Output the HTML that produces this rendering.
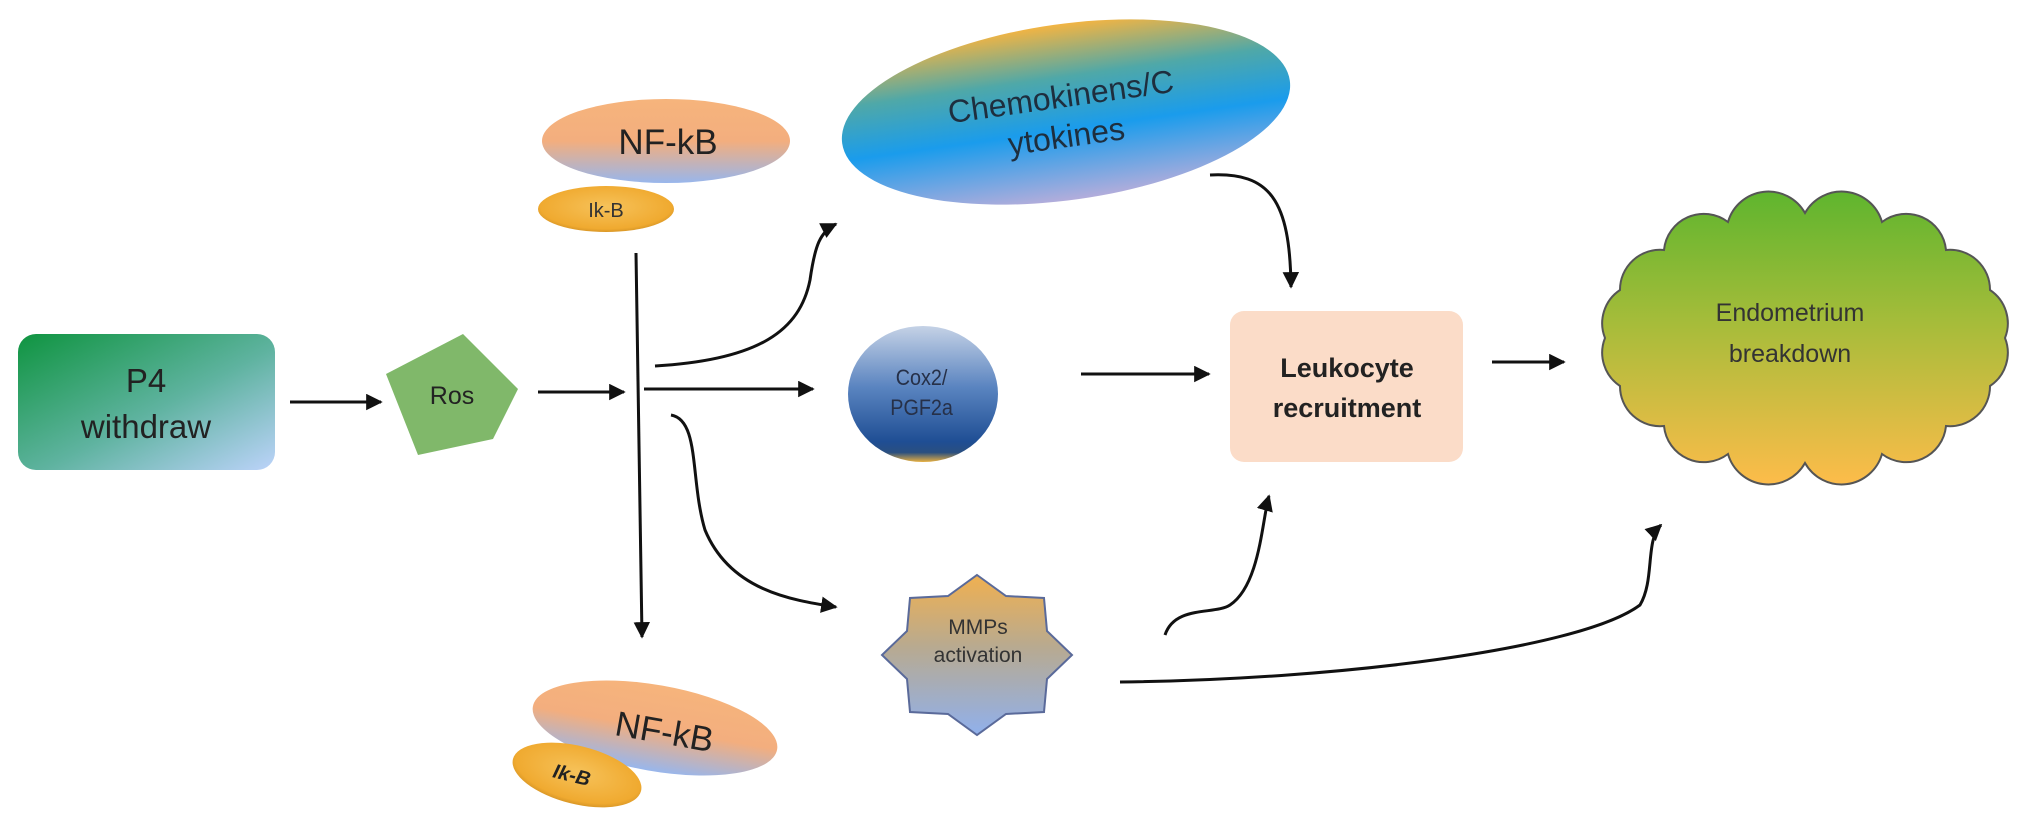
<!DOCTYPE html>
<html><head><meta charset="utf-8"><style>
html,body{margin:0;padding:0;background:#fff;}
svg{display:block;}
text{font-family:"Liberation Sans",sans-serif;}
</style></head><body>
<svg width="2032" height="819" viewBox="0 0 2032 819" xmlns="http://www.w3.org/2000/svg">
<defs>
<linearGradient id="gP4" x1="0" y1="0" x2="1" y2="1"><stop offset="0" stop-color="#0f9440"/><stop offset="0.55" stop-color="#5fb3a0"/><stop offset="1" stop-color="#bcd3fa"/></linearGradient>
<linearGradient id="gNF" x1="0" y1="0" x2="0" y2="1"><stop offset="0" stop-color="#f6b47c"/><stop offset="0.5" stop-color="#f3ae7e"/><stop offset="1" stop-color="#98b6ec"/></linearGradient>
<radialGradient id="gIk" cx="0.5" cy="0.45" r="0.6"><stop offset="0" stop-color="#f6c25a"/><stop offset="0.8" stop-color="#f0aa30"/><stop offset="1" stop-color="#c98a20"/></radialGradient>
<linearGradient id="gCh" x1="0" y1="0" x2="0" y2="1"><stop offset="0" stop-color="#f2b443"/><stop offset="0.3" stop-color="#4fa8a8"/><stop offset="0.6" stop-color="#1a9cec"/><stop offset="1" stop-color="#b3addb"/></linearGradient>
<linearGradient id="gCox" x1="0" y1="0" x2="0" y2="1"><stop offset="0" stop-color="#c5d2e6"/><stop offset="0.45" stop-color="#5a84c0"/><stop offset="0.85" stop-color="#1f4e94"/><stop offset="0.93" stop-color="#2a4f80"/><stop offset="1" stop-color="#e8b040"/></linearGradient>
<linearGradient id="gMM" x1="0" y1="0" x2="0" y2="1"><stop offset="0" stop-color="#f0b050"/><stop offset="0.45" stop-color="#b8aa90"/><stop offset="1" stop-color="#90b0ec"/></linearGradient>
<linearGradient id="gCl" x1="0" y1="0" x2="0" y2="1"><stop offset="0" stop-color="#5fb52e"/><stop offset="0.45" stop-color="#a6bc3a"/><stop offset="1" stop-color="#fdbc4a"/></linearGradient>
<marker id="ah" viewBox="0 0 10 10" refX="9" refY="5" markerWidth="5.5" markerHeight="5.5" orient="auto"><path d="M0,0 L10,5 L0,10 z" fill="#111"/></marker>
</defs>

<!-- P4 -->
<rect x="18" y="334" width="257" height="136" rx="18" fill="url(#gP4)"/>
<text x="146" y="392" font-size="33" text-anchor="middle" fill="#222">P4</text>
<text x="146" y="438" font-size="33" text-anchor="middle" fill="#222">withdraw</text>

<!-- Ros -->
<polygon points="463,334 518,389 493,439 418,455 386,374" fill="#80b86a"/>
<text x="452" y="404" font-size="25" text-anchor="middle" fill="#222">Ros</text>

<!-- top NF-kB -->
<ellipse cx="666" cy="141" rx="124" ry="42" fill="url(#gNF)"/>
<text x="668" y="154" font-size="35" text-anchor="middle" fill="#222">NF-kB</text>
<ellipse cx="606" cy="209" rx="68" ry="23" fill="url(#gIk)"/>
<text x="606" y="217" font-size="20" text-anchor="middle" fill="#333">Ik-B</text>

<!-- bottom NF-kB -->
<g transform="rotate(10 655 728)">
<ellipse cx="655" cy="728" rx="124" ry="43" fill="url(#gNF)"/>
<text x="665" y="742" font-size="35" text-anchor="middle" fill="#222">NF-kB</text>
</g>
<g transform="rotate(14 577 775)">
<ellipse cx="577" cy="775" rx="66" ry="29" fill="url(#gIk)"/>
<text x="572" y="783" font-size="20" font-weight="bold" font-style="italic" text-anchor="middle" fill="#222">Ik-B</text>
</g>

<!-- Chemokines -->
<g transform="rotate(-8 1066 112)">
<ellipse cx="1066" cy="112" rx="226" ry="88" fill="url(#gCh)"/>
<text x="1063" y="107" font-size="32" text-anchor="middle" fill="#1e2e3e">Chemokinens/C</text>
<text x="1063" y="147" font-size="32" text-anchor="middle" fill="#1e2e3e">ytokines</text>
</g>

<!-- Cox2 -->
<ellipse cx="923" cy="394" rx="75" ry="68" fill="url(#gCox)"/>
<text x="922" y="385" font-size="22" text-anchor="middle" fill="#263048" transform="scale(0.9 1) translate(102 0)">Cox2/</text>
<text x="922" y="415" font-size="22" text-anchor="middle" fill="#263048" transform="scale(0.9 1) translate(102 0)">PGF2a</text>

<!-- MMPs star -->
<polygon points="977,575 1006,596 1044,598 1047,631 1072,655 1047,679 1044,712 1006,714 977,735 948,714 910,712 907,679 882,655 907,631 910,598 948,596" fill="url(#gMM)" stroke="#5a6a9a" stroke-width="2"/>
<text x="978" y="634" font-size="21" text-anchor="middle" fill="#333">MMPs</text>
<text x="978" y="662" font-size="21" text-anchor="middle" fill="#333">activation</text>

<!-- Leukocyte -->
<rect x="1230" y="311" width="233" height="151" rx="14" fill="#fbdcc8"/>
<text x="1347" y="377" font-size="27" font-weight="bold" text-anchor="middle" fill="#222">Leukocyte</text>
<text x="1347" y="417" font-size="27" font-weight="bold" text-anchor="middle" fill="#222">recruitment</text>

<!-- Cloud -->
<path d="M2005,338 A40,40 0 0 1 1990,386 A40,40 0 0 1 1946,426 A40,40 0 0 1 1882,454 A42,42 0 0 1 1805,463 A42,42 0 0 1 1728,454 A40,40 0 0 1 1664,426 A40,40 0 0 1 1620,386 A40,40 0 0 1 1605,338 A40,40 0 0 1 1620,290 A40,40 0 0 1 1664,250 A40,40 0 0 1 1728,222 A42,42 0 0 1 1805,213 A42,42 0 0 1 1882,222 A40,40 0 0 1 1946,250 A40,40 0 0 1 1990,290 A40,40 0 0 1 2005,338 Z" fill="url(#gCl)" stroke="#555" stroke-width="2"/>
<text x="1790" y="321" font-size="25" text-anchor="middle" fill="#333">Endometrium</text>
<text x="1790" y="362" font-size="25" text-anchor="middle" fill="#333">breakdown</text>

<!-- arrows -->
<g stroke="#111" stroke-width="3" fill="none" marker-end="url(#ah)">
<line x1="290" y1="402" x2="381" y2="402"/>
<line x1="538" y1="392" x2="624" y2="392"/>
<line x1="636" y1="253" x2="642" y2="637"/>
<line x1="644" y1="389" x2="813" y2="389"/>
<path d="M655,366 C760,360 800,330 810,280 C815,245 820,232 836,224"/>
<path d="M671,415 C700,420 690,480 705,530 C730,590 790,600 836,607"/>
<line x1="1081" y1="374" x2="1209" y2="374"/>
<line x1="1492" y1="362" x2="1564" y2="362"/>
<path d="M1210,175 C1270,172 1290,200 1291,287"/>
<path d="M1165,635 C1175,605 1215,615 1230,605 C1260,585 1262,520 1269,496"/>
<path d="M1120,682 C1330,680 1580,650 1640,605 C1655,580 1645,540 1661,525"/>
</g>
</svg>
</body></html>
